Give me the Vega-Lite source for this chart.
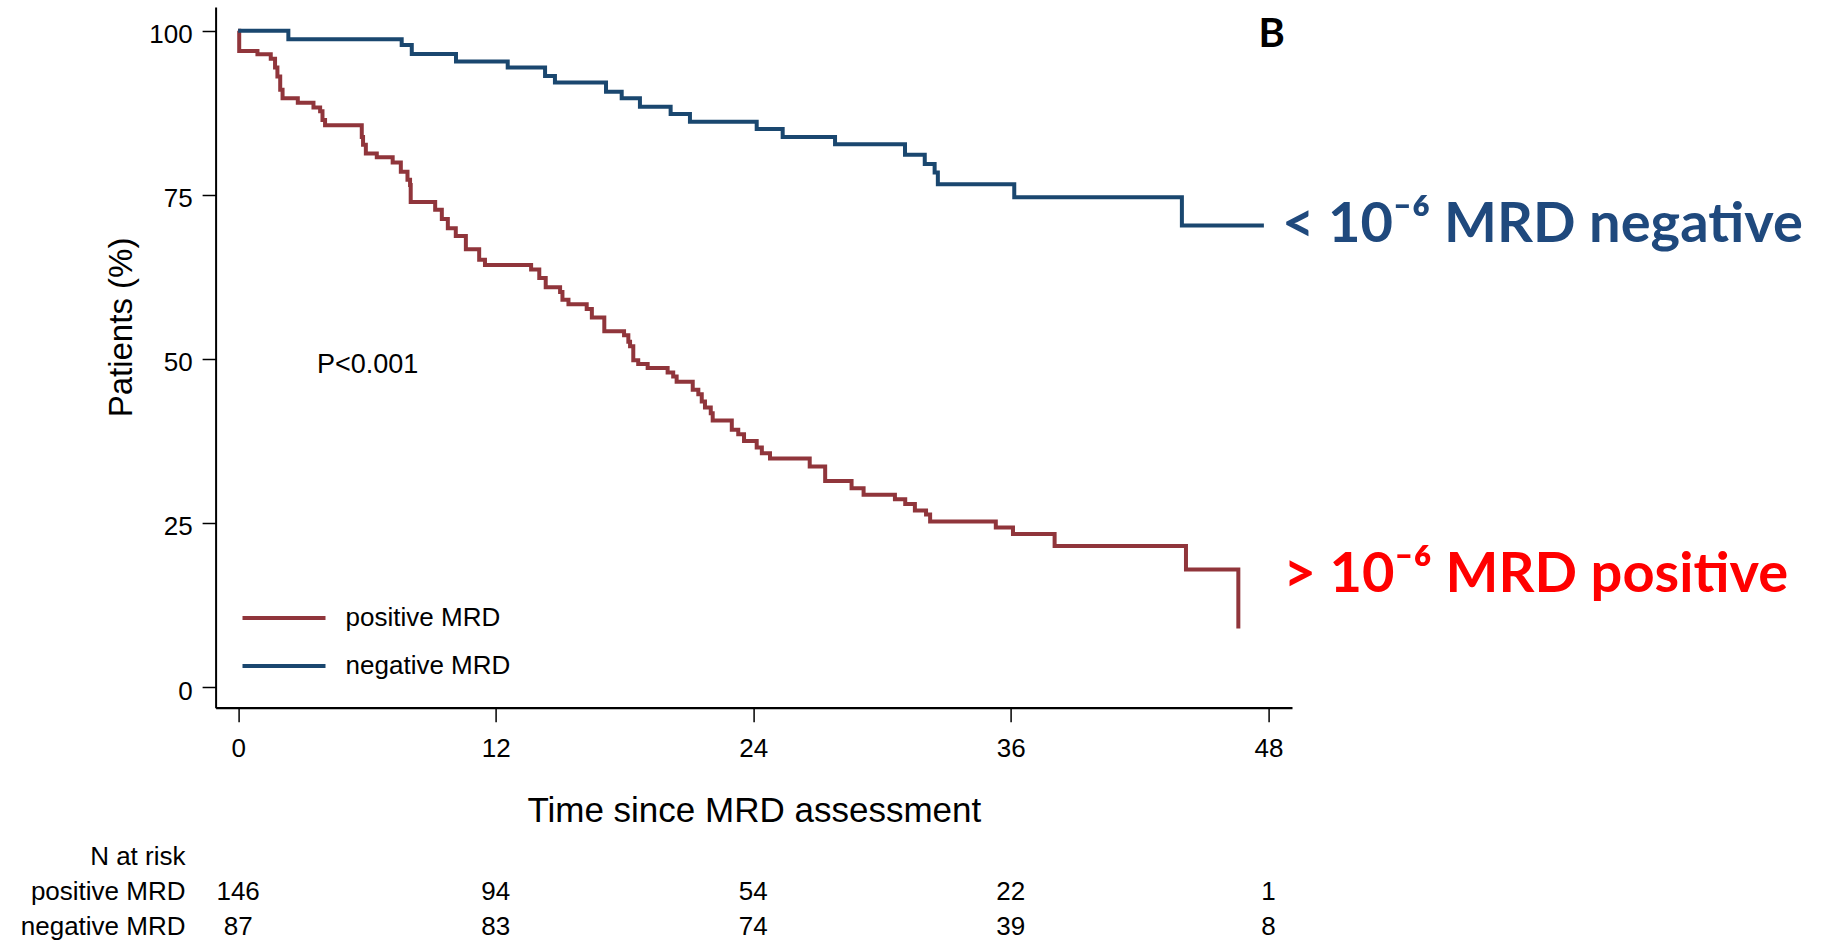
{
  "$schema": "https://vega.github.io/schema/vega-lite/v6.json",
  "autosize": {"type": "none"},
  "padding": {"left": 215.6, "top": 7, "right": 548, "bottom": 233.3},
  "width": 1076.4,
  "height": 700.7,
  "background": "white",
  "config": {"view": {"stroke": null}, "font": "Liberation Sans", "axis": {"grid": false}},
  "datasets": {
    "km": [
      {"group": "positive MRD", "month": 0, "pct": 100},
      {"group": "positive MRD", "month": 0.05, "pct": 96.9},
      {"group": "positive MRD", "month": 0.9, "pct": 96.4},
      {"group": "positive MRD", "month": 1.52, "pct": 95.7},
      {"group": "positive MRD", "month": 1.72, "pct": 94.4},
      {"group": "positive MRD", "month": 1.83, "pct": 93.0},
      {"group": "positive MRD", "month": 1.96, "pct": 91.0},
      {"group": "positive MRD", "month": 2.07, "pct": 89.7},
      {"group": "positive MRD", "month": 2.78, "pct": 89.0},
      {"group": "positive MRD", "month": 3.51, "pct": 88.3},
      {"group": "positive MRD", "month": 3.82, "pct": 87.7},
      {"group": "positive MRD", "month": 3.93, "pct": 86.4},
      {"group": "positive MRD", "month": 4.05, "pct": 85.6},
      {"group": "positive MRD", "month": 5.76, "pct": 83.8},
      {"group": "positive MRD", "month": 5.82, "pct": 82.6},
      {"group": "positive MRD", "month": 5.95, "pct": 81.3},
      {"group": "positive MRD", "month": 6.46, "pct": 80.7},
      {"group": "positive MRD", "month": 7.2, "pct": 79.9},
      {"group": "positive MRD", "month": 7.58, "pct": 78.5},
      {"group": "positive MRD", "month": 7.89, "pct": 77.3},
      {"group": "positive MRD", "month": 8.01, "pct": 76.5},
      {"group": "positive MRD", "month": 8.04, "pct": 73.9},
      {"group": "positive MRD", "month": 9.18, "pct": 72.7},
      {"group": "positive MRD", "month": 9.49, "pct": 71.3},
      {"group": "positive MRD", "month": 9.77, "pct": 69.9},
      {"group": "positive MRD", "month": 10.14, "pct": 68.7},
      {"group": "positive MRD", "month": 10.61, "pct": 66.7},
      {"group": "positive MRD", "month": 11.23, "pct": 65.1},
      {"group": "positive MRD", "month": 11.5, "pct": 64.3},
      {"group": "positive MRD", "month": 13.65, "pct": 63.6},
      {"group": "positive MRD", "month": 14.03, "pct": 62.3},
      {"group": "positive MRD", "month": 14.33, "pct": 60.9},
      {"group": "positive MRD", "month": 15.0, "pct": 60.2},
      {"group": "positive MRD", "month": 15.11, "pct": 59.0},
      {"group": "positive MRD", "month": 15.39, "pct": 58.3},
      {"group": "positive MRD", "month": 16.24, "pct": 57.6},
      {"group": "positive MRD", "month": 16.48, "pct": 56.3},
      {"group": "positive MRD", "month": 17.06, "pct": 54.2},
      {"group": "positive MRD", "month": 17.98, "pct": 53.6},
      {"group": "positive MRD", "month": 18.18, "pct": 52.6},
      {"group": "positive MRD", "month": 18.26, "pct": 51.9},
      {"group": "positive MRD", "month": 18.41, "pct": 49.8},
      {"group": "positive MRD", "month": 18.64, "pct": 49.2},
      {"group": "positive MRD", "month": 19.08, "pct": 48.6},
      {"group": "positive MRD", "month": 20.01, "pct": 47.9},
      {"group": "positive MRD", "month": 20.27, "pct": 47.3},
      {"group": "positive MRD", "month": 20.43, "pct": 46.5},
      {"group": "positive MRD", "month": 21.18, "pct": 45.3},
      {"group": "positive MRD", "month": 21.44, "pct": 44.6},
      {"group": "positive MRD", "month": 21.6, "pct": 43.5},
      {"group": "positive MRD", "month": 21.75, "pct": 42.6},
      {"group": "positive MRD", "month": 22.02, "pct": 41.7},
      {"group": "positive MRD", "month": 22.11, "pct": 40.6},
      {"group": "positive MRD", "month": 23.0, "pct": 39.2},
      {"group": "positive MRD", "month": 23.3, "pct": 38.5},
      {"group": "positive MRD", "month": 23.57, "pct": 37.5},
      {"group": "positive MRD", "month": 24.16, "pct": 36.5},
      {"group": "positive MRD", "month": 24.4, "pct": 35.6},
      {"group": "positive MRD", "month": 24.78, "pct": 34.8},
      {"group": "positive MRD", "month": 26.63, "pct": 33.6},
      {"group": "positive MRD", "month": 27.35, "pct": 31.4},
      {"group": "positive MRD", "month": 28.58, "pct": 30.3},
      {"group": "positive MRD", "month": 29.14, "pct": 29.3},
      {"group": "positive MRD", "month": 30.6, "pct": 28.6},
      {"group": "positive MRD", "month": 31.08, "pct": 27.9},
      {"group": "positive MRD", "month": 31.53, "pct": 26.9},
      {"group": "positive MRD", "month": 32.05, "pct": 26.3},
      {"group": "positive MRD", "month": 32.24, "pct": 25.2},
      {"group": "positive MRD", "month": 35.3, "pct": 24.3},
      {"group": "positive MRD", "month": 36.1, "pct": 23.3},
      {"group": "positive MRD", "month": 38.04, "pct": 21.5},
      {"group": "positive MRD", "month": 44.16, "pct": 17.9},
      {"group": "positive MRD", "month": 46.6, "pct": 8.9},
      {"group": "negative MRD", "month": 0, "pct": 100},
      {"group": "negative MRD", "month": 2.34, "pct": 98.7},
      {"group": "negative MRD", "month": 7.62, "pct": 97.8},
      {"group": "negative MRD", "month": 8.09, "pct": 96.45},
      {"group": "negative MRD", "month": 10.15, "pct": 95.3},
      {"group": "negative MRD", "month": 12.56, "pct": 94.4},
      {"group": "negative MRD", "month": 14.3, "pct": 93.1},
      {"group": "negative MRD", "month": 14.76, "pct": 92.1},
      {"group": "negative MRD", "month": 17.14, "pct": 90.7},
      {"group": "negative MRD", "month": 17.87, "pct": 89.7},
      {"group": "negative MRD", "month": 18.72, "pct": 88.4},
      {"group": "negative MRD", "month": 20.15, "pct": 87.3},
      {"group": "negative MRD", "month": 21.05, "pct": 86.1},
      {"group": "negative MRD", "month": 24.16, "pct": 85.0},
      {"group": "negative MRD", "month": 25.37, "pct": 83.8},
      {"group": "negative MRD", "month": 27.81, "pct": 82.7},
      {"group": "negative MRD", "month": 31.07, "pct": 81.1},
      {"group": "negative MRD", "month": 31.99, "pct": 79.7},
      {"group": "negative MRD", "month": 32.45, "pct": 78.4},
      {"group": "negative MRD", "month": 32.6, "pct": 76.6},
      {"group": "negative MRD", "month": 36.16, "pct": 74.6},
      {"group": "negative MRD", "month": 43.97, "pct": 70.3},
      {"group": "negative MRD", "month": 47.79, "pct": 70.3}
    ],
    "atrisk": [
      {"group": "positive MRD", "month": 0, "n": 146},
      {"group": "positive MRD", "month": 12, "n": 94},
      {"group": "positive MRD", "month": 24, "n": 54},
      {"group": "positive MRD", "month": 36, "n": 22},
      {"group": "positive MRD", "month": 48, "n": 1},
      {"group": "negative MRD", "month": 0, "n": 87},
      {"group": "negative MRD", "month": 12, "n": 83},
      {"group": "negative MRD", "month": 24, "n": 74},
      {"group": "negative MRD", "month": 36, "n": 39},
      {"group": "negative MRD", "month": 48, "n": 8}
    ]
  },
  "layer": [
    {
      "layer": [
        {
          "data": {"name": "km"},
          "mark": {"type": "line", "interpolate": "step-after", "strokeWidth": 4},
          "encoding": {
            "x": {
              "field": "month", "type": "quantitative",
              "scale": {"domain": [-1.05, 49.1], "nice": false, "zero": false},
              "axis": {
                "values": [0, 12, 24, 36, 48], "title": "Time since MRD assessment",
                "domainColor": "black", "domainWidth": 2.2, "tickColor": "black", "tickSize": 14, "tickWidth": 1.5,
                "labelFont": "Liberation Sans", "labelFontSize": 26, "labelColor": "black", "labelPadding": 14, "labelFlush": false,
                "titleFont": "Liberation Sans", "titleFontSize": 35, "titleFontWeight": "normal", "titleColor": "black",
                "titleY": 114, "titleBaseline": "alphabetic", "grid": false
              }
            },
            "y": {
              "field": "pct", "type": "quantitative",
              "scale": {"domain": [-3.15, 103.6], "nice": false, "zero": false},
              "axis": {
                "values": [0, 25, 50, 75, 100], "title": "Patients (%)",
                "domainColor": "black", "domainWidth": 2, "tickColor": "black", "tickSize": 13.5, "tickWidth": 1.5,
                "labelFont": "Liberation Sans", "labelFontSize": 26, "labelColor": "black", "labelPadding": 10, "labelFlush": false, "labelOffset": 4,
                "titleFont": "Liberation Sans", "titleFontSize": 33, "titleFontWeight": "normal", "titleColor": "black",
                "titleX": -84, "titleY": 320, "titleAngle": 270, "titleBaseline": "alphabetic", "titleAlign": "center", "grid": false
              }
            },
            "color": {
              "field": "group", "type": "nominal",
              "scale": {"domain": ["positive MRD", "negative MRD"], "range": ["#90353B", "#1A476F"]},
              "legend": {
                "orient": "none", "legendX": 41.4, "legendY": 584, "title": null,
                "symbolType": "M-1.66,0H1.66", "symbolSize": 2500, "symbolStrokeWidth": 4,
                "labelFont": "Liberation Sans", "labelFontSize": 26, "labelColor": "black",
                "labelOffset": 34.6, "rowPadding": 8, "padding": 0, "labelLimit": 400
              }
            }
          }
        },
        {
          "data": {"values": [{}]},
          "mark": {"type": "text", "text": "P<0.001", "font": "Liberation Sans", "fontSize": 27, "align": "left", "baseline": "alphabetic", "color": "black"},
          "encoding": {
            "x": {"datum": 3.67, "type": "quantitative", "scale": {"domain": [-1.05, 49.1], "nice": false, "zero": false}},
            "y": {"datum": 47.9, "type": "quantitative", "scale": {"domain": [-3.15, 103.6], "nice": false, "zero": false}}
          }
        },
        {
          "data": {"values": [{}]},
          "mark": {"type": "text", "text": "B", "font": "Lato", "fontWeight": "bold", "fontSize": 40, "align": "center", "baseline": "alphabetic", "color": "black"},
          "encoding": {
            "x": {"datum": 48.15, "type": "quantitative", "scale": {"domain": [-1.05, 49.1], "nice": false, "zero": false}},
            "y": {"datum": 97.47, "type": "quantitative", "scale": {"domain": [-3.15, 103.6], "nice": false, "zero": false}}
          }
        },
        {
          "data": {"values": [{}]},
          "mark": {"type": "text", "text": "< 10⁻⁶ MRD negative", "font": "Lato", "fontWeight": "bold", "fontSize": 56, "align": "left", "baseline": "alphabetic", "color": "#1F497D"},
          "encoding": {
            "x": {"datum": 48.63, "type": "quantitative", "scale": {"domain": [-1.05, 49.1], "nice": false, "zero": false}},
            "y": {"datum": 67.85, "type": "quantitative", "scale": {"domain": [-3.15, 103.6], "nice": false, "zero": false}}
          }
        },
        {
          "data": {"values": [{}]},
          "mark": {"type": "text", "text": "> 10⁻⁶ MRD positive", "font": "Lato", "fontWeight": "bold", "fontSize": 56, "align": "left", "baseline": "alphabetic", "color": "#FF0000"},
          "encoding": {
            "x": {"datum": 48.7, "type": "quantitative", "scale": {"domain": [-1.05, 49.1], "nice": false, "zero": false}},
            "y": {"datum": 14.52, "type": "quantitative", "scale": {"domain": [-3.15, 103.6], "nice": false, "zero": false}}
          }
        }
      ]
    },
    {
      "data": {"name": "atrisk"},
      "mark": {"type": "text", "font": "Liberation Sans", "fontSize": 26, "baseline": "middle", "align": "center", "color": "black"},
      "encoding": {
        "x": {"field": "month", "type": "quantitative", "scale": {"domain": [-1.05, 49.1], "nice": false, "zero": false}},
        "y": {
          "field": "group", "type": "nominal",
          "scale": {"type": "point", "domain": ["N at risk", "positive MRD", "negative MRD"], "range": [849.7, 919.7], "padding": 0},
          "axis": {"orient": "left", "domain": false, "ticks": false, "tickSize": 0, "labelPadding": 30.6, "labelFont": "Liberation Sans", "labelFontSize": 26, "labelColor": "black", "title": null, "grid": false, "labelBaseline": "middle"}
        },
        "text": {"field": "n", "type": "quantitative"}
      }
    }
  ],
  "resolve": {"scale": {"y": "independent"}, "axis": {"y": "independent"}}
}
